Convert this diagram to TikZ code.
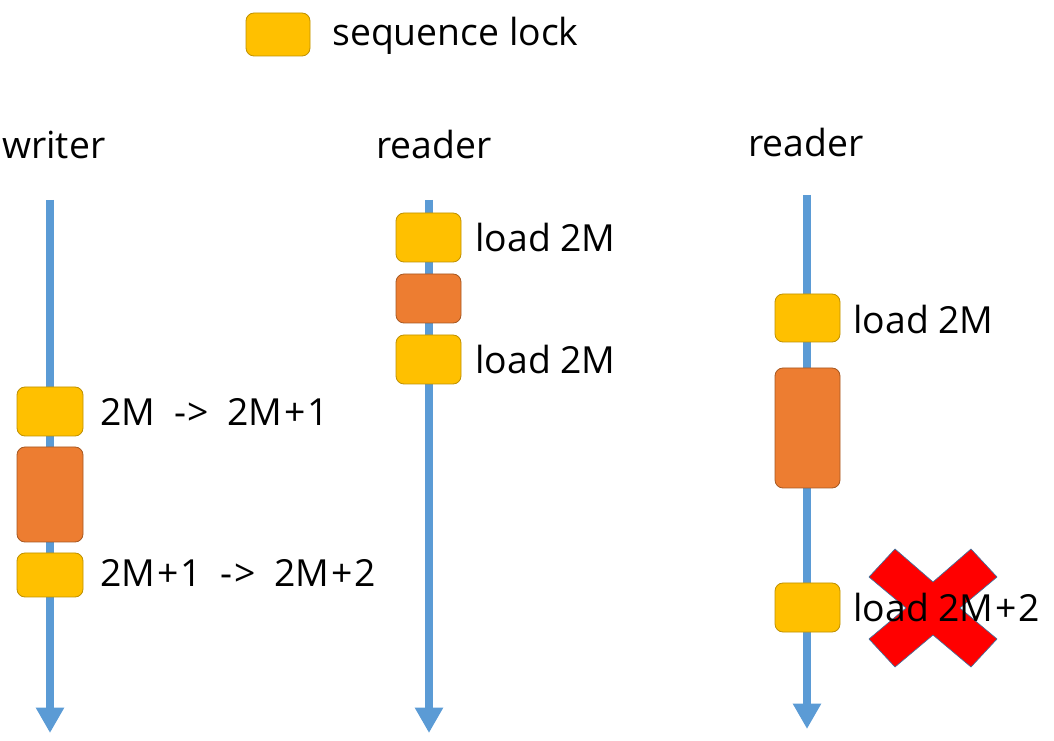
\documentclass[tikz,border=0pt]{standalone}
\usepackage{fontspec}
\setmainfont{Open Sans}
\usetikzlibrary{arrows.meta}
\definecolor{lockfill}{HTML}{FFC000}
\definecolor{lockdraw}{HTML}{BF9000}
\definecolor{csfill}{HTML}{ED7D31}
\definecolor{tline}{HTML}{5B9BD5}
\definecolor{xfill}{HTML}{FF0000}
\definecolor{xdraw}{HTML}{41719C}
\newcommand{\wsp}{\hspace{14pt}}
\newcommand{\pls}{\hspace{1.5pt}+\hspace{1.5pt}}
\tikzset{
  px/.style={x=0.75pt,y=-0.75pt},
  lockbox/.style={draw=lockdraw, fill=lockfill, rounded corners=6pt, line width=0.6pt},
  csbox/.style={draw=csfill!70!black, fill=csfill, rounded corners=6pt, line width=0.6pt},
  timeline/.style={draw=tline, line width=6pt, -{Triangle[width=20pt,length=19pt]}},
  lbl/.style={anchor=west, inner sep=0pt, font=\fontsize{28}{33}\selectfont},
  head/.style={anchor=center, inner sep=0pt, font=\fontsize{28}{33}\selectfont},
}
\begin{document}
\begin{tikzpicture}[px]
\useasboundingbox (0,0) rectangle (1054,741);
% legend
\path[lockbox] (246,13) rectangle (310,56);
\node[lbl] (leg) at (332,36) {sequence lock};
% headers
\node[lbl] (hw) at (2,145) {writer};
\node[head] (hr1) at (434,145) {reader};
\node[head] (hr2) at (806,143) {reader};
% timelines
\coordinate (w0) at (50,200); \coordinate (w1) at (50,733);
\coordinate (a0) at (429,200); \coordinate (a1) at (429,733);
\coordinate (b0) at (807,195); \coordinate (b1) at (807,729);
\draw[timeline] (w0) -- (w1);
\draw[timeline] (a0) -- (a1);
\draw[timeline] (b0) -- (b1);
% writer
\path[lockbox] (17,387) rectangle (83,436);
\path[csbox] (17,447) rectangle (83,542);
\path[lockbox] (17,553) rectangle (83,597);
\node[lbl] (w1l) at (100,412) {2M\wsp-\kern1pt>\wsp2M\pls1};
\node[lbl] (w2l) at (100,573) {2M\pls1\wsp-\kern1pt>\wsp2M\pls2};
% reader 1
\path[lockbox] (396,213) rectangle (461,262);
\path[csbox] (396,274) rectangle (461,323);
\path[lockbox] (396,335) rectangle (461,384);
\node[lbl] (a1l) at (475,238) {load 2M};
\node[lbl] (a2l) at (475,360) {load 2M};
% reader 2
\path[lockbox] (775,294) rectangle (840,342);
\path[csbox] (775,368) rectangle (840,488);
\path[lockbox] (775,583) rectangle (840,632);
\node[lbl] (b1l) at (853,320) {load 2M};
% red cross
\path[fill=xfill, draw=xdraw, line width=0.5pt]
  (895,549) -- (933,582) -- (971,549) -- (997,577) -- (960,608) -- (997,639)
  -- (971,667) -- (933,635) -- (895,667) -- (869,639) -- (906,608) -- (869,577) -- cycle;
\node[lbl] (b2l) at (853,607) {load 2M\pls2};
\end{tikzpicture}
\end{document}
